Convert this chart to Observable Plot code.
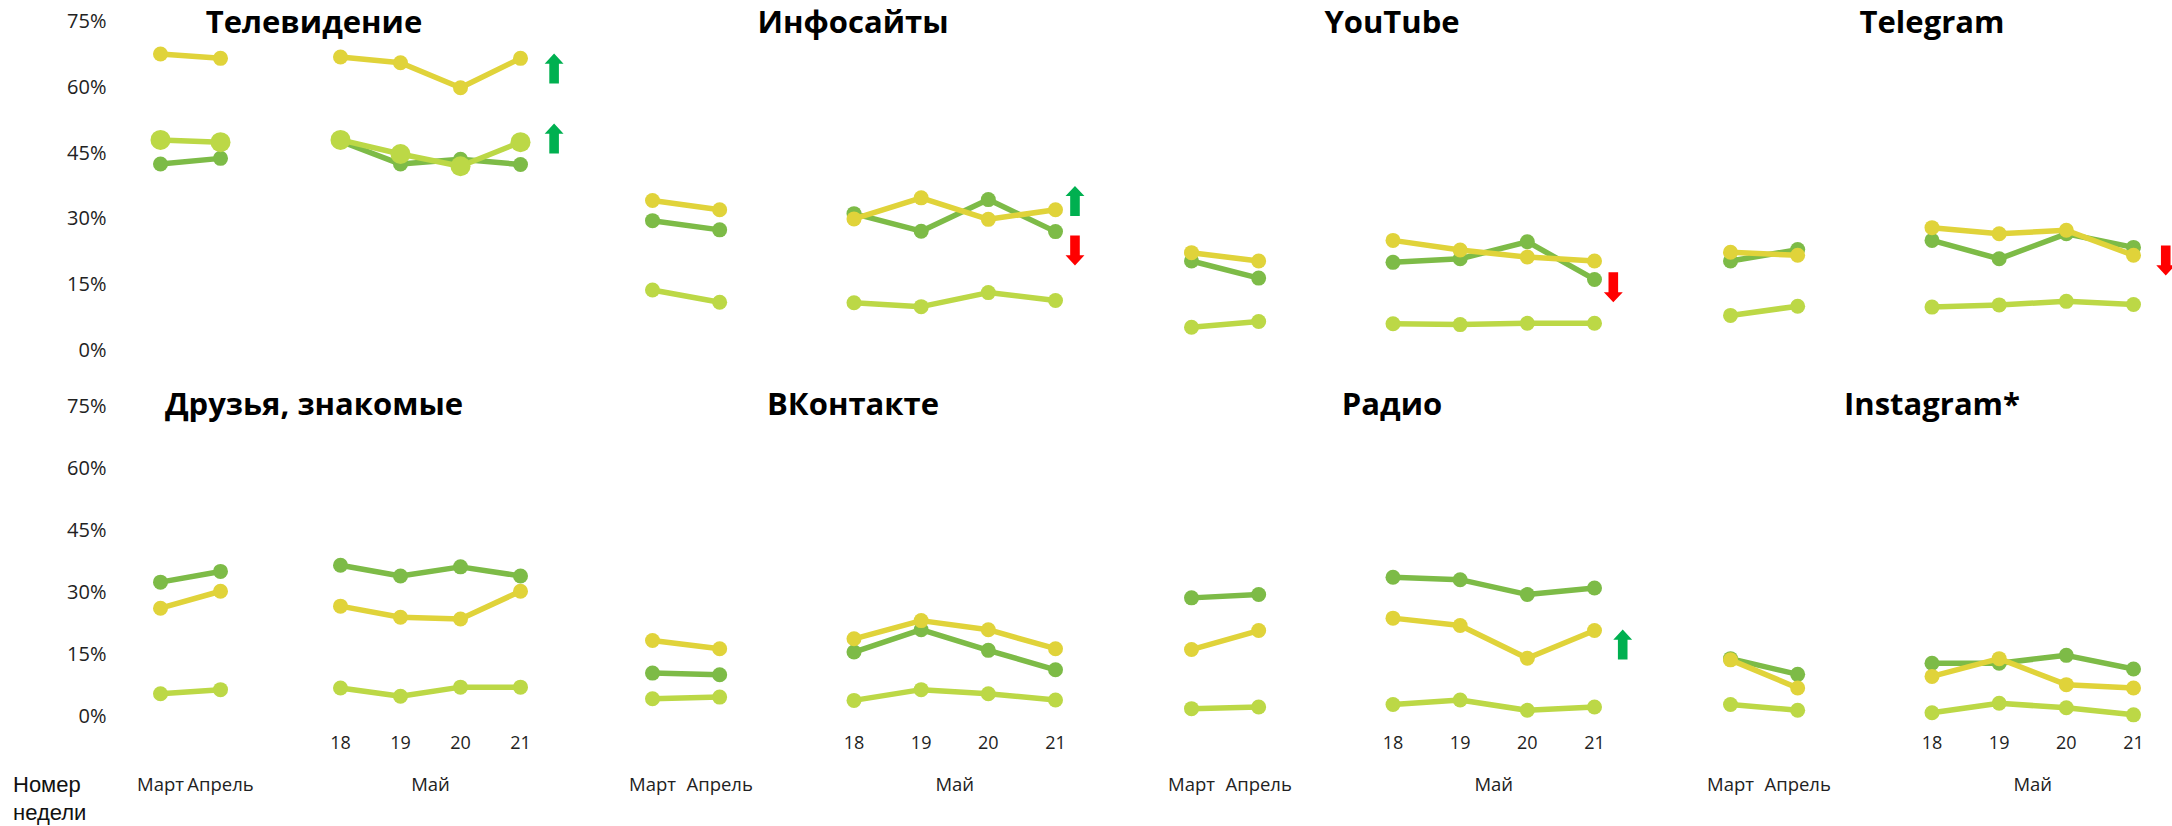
<!DOCTYPE html>
<html><head><meta charset="utf-8">
<script src="https://cdn.jsdelivr.net/npm/d3@7"></script>
<script src="https://cdn.jsdelivr.net/npm/@observablehq/plot@0.6"></script>
<style>
html,body{margin:0;padding:0;background:#fff}
#root{position:relative;width:2172px;height:826px;overflow:hidden;font-family:"Open Sans",sans-serif;color:#222}
#root svg{position:absolute;overflow:visible}
.ptitle{position:absolute;font-weight:700;font-size:31px;color:#000;transform:translate(-50%,-50%);white-space:nowrap;line-height:1}
.wk{position:absolute;left:13px;top:771px;font-family:"Liberation Sans",Arial,sans-serif;font-size:22px;line-height:28px;color:#111}
</style></head>
<body><div id="root"></div>
<script>
// ---- categories / labels ----
const slots = ["Март", "Апрель", null, "18", "19", "20", "21"];
const periods = ["Март", "Апрель", "18", "19", "20", "21"];
const springPeriods = ["Март", "Апрель"];
const weeks = ["18", "19", "20", "21"];
const mayLabel = "Май";
const yTicks = [0, 15, 30, 45, 60, 75];
const seriesKeys = ["dark", "yellow", "light"];
const seriesColors = ["#7DBB47", "#E0D33A", "#BCD846"];
const panelTitles = ["Телевидение", "Инфосайты", "YouTube", "Telegram",
                     "Друзья, знакомые", "ВКонтакте", "Радио", "Instagram*"];

// ---- values (%) per panel, per series, over periods ----
const tvDark     = [42.5, 43.8, 47.7, 42.5, 43.6, 42.4];
const tvYellow   = [67.6, 66.6, 66.9, 65.6, 59.9, 66.6];
const tvLight    = [48.0, 47.5, 48.0, 44.8, 42.0, 47.5];

const infoDark   = [29.6, 27.5, 31.2, 27.2, 34.4, 27.1];
const infoYellow = [34.2, 32.1, 30.0, 34.8, 29.9, 32.1];
const infoLight  = [13.8, 11.0, 10.9, 10.0, 13.2, 11.4];

const ytDark     = [20.4, 16.5, 20.1, 20.9, 24.8, 16.2];
const ytYellow   = [22.3, 20.4, 25.1, 22.9, 21.3, 20.4];
const ytLight    = [5.3, 6.6, 6.1, 5.9, 6.2, 6.2];

const tgDark     = [20.4, 23.0, 25.1, 20.9, 26.6, 23.5];
const tgYellow   = [22.4, 21.7, 28.0, 26.6, 27.4, 21.7];
const tgLight    = [8.0, 10.1, 9.9, 10.4, 11.2, 10.5];

const frDark     = [32.5, 35.1, 36.6, 34.0, 36.2, 34.0];
const frYellow   = [26.2, 30.3, 26.7, 24.0, 23.6, 30.3];
const frLight    = [5.5, 6.5, 6.9, 4.9, 7.1, 7.1];

const vkDark     = [10.5, 10.1, 15.6, 21.0, 16.0, 11.3];
const vkYellow   = [18.4, 16.4, 18.8, 23.2, 21.0, 16.4];
const vkLight    = [4.3, 4.7, 3.9, 6.5, 5.5, 4.0];

const radioDark  = [28.7, 29.5, 33.7, 33.1, 29.5, 31.1];
const radioYellow= [16.2, 20.8, 23.8, 22.0, 14.1, 20.8];
const radioLight = [1.9, 2.3, 2.9, 4.0, 1.5, 2.3];

const igDark     = [14.0, 10.2, 12.9, 12.9, 14.8, 11.5];
const igYellow   = [13.7, 6.9, 9.7, 14.0, 7.7, 6.9];
const igLight    = [2.9, 1.5, 0.9, 3.2, 2.1, 0.4];

const panelValues = [
  [tvDark, tvYellow, tvLight],
  [infoDark, infoYellow, infoLight],
  [ytDark, ytYellow, ytLight],
  [tgDark, tgYellow, tgLight],
  [frDark, frYellow, frLight],
  [vkDark, vkYellow, vkLight],
  [radioDark, radioYellow, radioLight],
  [igDark, igYellow, igLight]
];

// ---- change arrows ----
const arrowPanels = ["Телевидение", "Телевидение", "Инфосайты", "Инфосайты", "YouTube", "Telegram", "Радио"];
const arrowDirs   = ["up", "up", "up", "down", "down", "down", "up"];
const arrowValues = [64.3, 48.3, 34.1, 22.8, 14.4, 20.5, 17.4];
const arrowSlot   = [6.56, 6.56, 6.29, 6.29, 6.28, 6.48, 6.42];

// ---- layout ----
const cols = [
  {left: 0, width: 600, ml: 160, mr: 80},
  {left: 600, width: 560, ml: 52, mr: 105},
  {left: 1160, width: 490, ml: 31, mr: 56},
  {left: 1650, width: 522, ml: 80, mr: 39}
];
const rows = [
  {top: 0, height: 370, mt: 21, mb: 20, titleY: 21},
  {top: 370, height: 456, mt: 36, mb: 110, titleY: 403}
];
const titleX = [314, 853, 1392, 1932];

function arrowSymbol(dir) {
  return {
    draw(ctx, size) {
      const r = Math.sqrt(size / Math.PI);
      const s = dir === "up" ? 1 : -1;
      const hw = 0.63 * r, sw = 0.32 * r, hh = 0.68 * r;
      ctx.moveTo(0, -s * r);
      ctx.lineTo(hw, -s * (r - hh));
      ctx.lineTo(sw, -s * (r - hh));
      ctx.lineTo(sw, s * r);
      ctx.lineTo(-sw, s * r);
      ctx.lineTo(-sw, -s * (r - hh));
      ctx.lineTo(-hw, -s * (r - hh));
      ctx.closePath();
    }
  };
}

const root = document.getElementById("root");

panelTitles.forEach((title, p) => {
  const col = cols[p % 4], row = rows[Math.floor(p / 4)];
  const data = [];
  panelValues[p].forEach((vals, s) => {
    vals.forEach((v, i) => {
      const per = periods[i];
      data.push({series: seriesKeys[s], si: s, period: per, xi: slots.indexOf(per),
                 seg: springPeriods.includes(per) ? "spring" : "may", v});
    });
  });
  const marks = [];
  seriesKeys.forEach((key, s) => {
    const d = data.filter(r => r.series === key);
    const big = (p === 0 && key === "light");
    marks.push(Plot.line(d, {x: "xi", y: "v", z: "seg", stroke: seriesColors[s], strokeWidth: 5.5}));
    marks.push(Plot.dot(d, {x: "xi", y: "v", r: big ? 10 : 7.5, fill: seriesColors[s], stroke: "none"}));
  });
  const arrows = arrowPanels.map((t, i) => ({t, dir: arrowDirs[i], v: arrowValues[i], xi: arrowSlot[i]}))
    .filter(a => a.t === title);
  ["up", "down"].forEach(dir => {
    const a = arrows.filter(x => x.dir === dir);
    if (a.length) marks.push(Plot.dot(a, {x: "xi", y: "v", r: 15, symbol: arrowSymbol(dir),
      fill: dir === "up" ? "#00B050" : "#FF0000", stroke: "none"}));
  });
  if (p % 4 === 0) {
    marks.push(Plot.axisY({ticks: yTicks, tickFormat: d => d + "%", tickSize: 0, tickPadding: 54,
      fontSize: 20, fill: "#222", label: null}));
  }
  if (p >= 4) {
    marks.push(Plot.text(weeks, {x: d => slots.indexOf(d), text: d => d, frameAnchor: "bottom",
      dy: 27, lineAnchor: "middle", fontSize: 18, fill: "#222"}));
    const monthRows = springPeriods.map(m => ({label: m, xi: slots.indexOf(m)}))
      .concat([{label: mayLabel, xi: d3.mean(weeks, w => slots.indexOf(w))}]);
    marks.push(Plot.text(monthRows, {x: "xi", text: "label", frameAnchor: "bottom",
      dy: 69, lineAnchor: "middle", fontSize: 18.5, fill: "#222"}));
  }
  const svg = Plot.plot({
    width: col.width, height: row.height,
    marginLeft: col.ml, marginRight: col.mr, marginTop: row.mt, marginBottom: row.mb,
    x: {type: "linear", domain: [0, 6], axis: null},
    y: {domain: [0, 75], ...(p % 4 === 0 ? {label: null} : {axis: null})},
    style: {fontFamily: "'Open Sans', sans-serif", background: "transparent", overflow: "visible"},
    marks
  });
  svg.style.left = col.left + "px";
  svg.style.top = row.top + "px";
  root.appendChild(svg);

  const t = document.createElement("div");
  t.className = "ptitle";
  t.textContent = title;
  t.style.left = titleX[p % 4] + "px";
  t.style.top = row.titleY + "px";
  root.appendChild(t);
});

const wk = document.createElement("div");
wk.className = "wk";
wk.innerHTML = "Номер<br>недели";
root.appendChild(wk);
</script>
</body></html>
